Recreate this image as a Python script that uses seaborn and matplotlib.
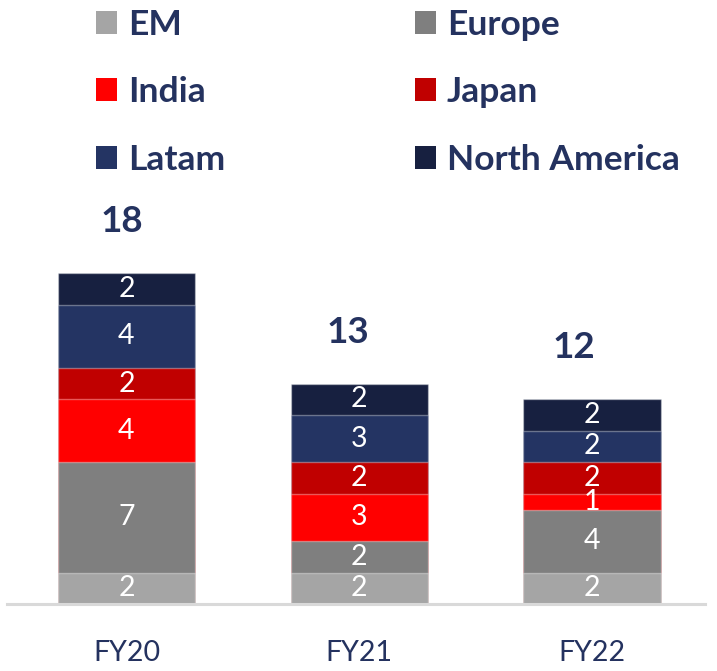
import matplotlib
matplotlib.use("Agg")
import matplotlib.pyplot as plt
import seaborn as sns
import numpy as np
from matplotlib.patches import Patch

# ---- data ----
years = ["FY20", "FY21", "FY22"]
regions = ["EM", "Europe", "India", "Japan", "Latam", "North America"]
em = [2, 2, 2]
europe = [7, 2, 4]
india = [4, 3, 1]
japan = [2, 2, 2]
latam = [4, 3, 2]
north_america = [2, 2, 2]
totals = [18, 13, 12]

series = [em, europe, india, japan, latam, north_america]
colors = ["#a5a5a5", "#7f7f7f", "#ff0000", "#c00000", "#243463", "#172040"]
navy = "#24325f"

sns.set_theme(style="white")
fam = ["Lato", "DejaVu Sans"]
plt.rcParams["font.family"] = fam

W, H = 717, 671
fig = plt.figure(figsize=(W / 100, H / 100), dpi=100)
base_px = 604
unit_px = 15.75
ymax = 30
ax = fig.add_axes([7 / W, (H - base_px) / H, (705 - 7) / W, ymax * unit_px / H])

vals = np.array(series, dtype=float)
cum = np.cumsum(vals, axis=0)

for i in range(len(series) - 1, -1, -1):
    sns.barplot(x=years, y=cum[i], color=colors[i], width=0.59, ax=ax,
                edgecolor=(1, 1, 1, 0.35), linewidth=1.0, saturation=1)

for i in range(len(series)):
    for j in range(len(years)):
        yc = cum[i][j] - vals[i][j] / 2
        ax.text(j, yc, f"{int(series[i][j])}", ha="center", va="center",
                color="white", fontsize=20.5)

for j in range(len(years)):
    ax.annotate(f"{totals[j]}", xy=(j, cum[-1][j]), xytext=(-3 - 5 * j, 37),
                textcoords="offset points", ha="center", va="center",
                color=navy, fontsize=26.5, fontweight="bold")

ax.set_xlim(-0.513, 2.485)
ax.set_ylim(0, ymax)
ax.set_yticks([])
ax.set_xlabel("")
ax.set_ylabel("")
for s in ["top", "right", "left"]:
    ax.spines[s].set_visible(False)
ax.spines["bottom"].set_color("#d9d9d9")
ax.spines["bottom"].set_linewidth(2.2)
ax.tick_params(axis="x", length=0, pad=26, labelsize=20.5, labelcolor=navy)

order = [0, 2, 4, 1, 3, 5]
handles = [Patch(facecolor=colors[k], edgecolor="none") for k in order]
labels = [regions[k] for k in order]
leg = fig.legend(handles, labels, ncol=2, loc="upper left",
                 bbox_to_anchor=(96 / W, 1 - 9 / H), frameon=False,
                 borderpad=0, borderaxespad=0, handlelength=0.6,
                 handleheight=0.62, handletextpad=0.31, columnspacing=5.34,
                 labelspacing=1.0, prop={"family": fam, "weight": "bold",
                                         "size": 25.5})
for t in leg.get_texts():
    t.set_color(navy)

fig.savefig("out.png", dpi=100)
